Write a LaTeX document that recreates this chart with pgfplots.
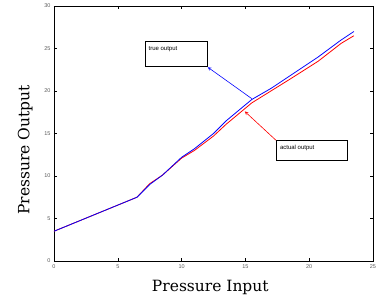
\documentclass[border=0pt]{standalone}
\usepackage{fontspec}
\setmainfont{DejaVu Serif}
\newfontfamily\arial{Liberation Sans}
\usepackage{pgfplots}
\pgfplotsset{compat=1.18}
\begin{document}
\begin{tikzpicture}[x=1pt,y=1pt]
\path[use as bounding box] (-54,-37) rectangle (327,261);
\begin{axis}[
  scale only axis,
  width=319pt, height=255pt,
  xmin=0, xmax=25, ymin=0, ymax=30,
  xtick={0,5,10,15,20,25},
  ytick={0,5,10,15,20,25,30},
  tick align=inside,
  major tick length=3pt,
  axis line style={line width=0.9pt},
  tick style={black, line width=0.4pt},
  ticklabel style={font=\arial\fontsize{5.5}{6}\selectfont, text=gray!70!black},
  /pgf/number format/assume math mode=true,
  xlabel={Pressure Input},
  ylabel={Pressure Output},
  label style={font=\fontsize{15.5}{18}\selectfont},
  xlabel style={at={(axis description cs:0.49,-0.102)}, anchor=center},
  ylabel style={at={(axis description cs:-0.09,0.435)}, anchor=center, rotate=0},
  clip=false,
]
\addplot[red, line width=0.8pt] coordinates {
(0,3.5) (6.5,7.5) (7.5,9.1) (8.5,10.1) (10,12.1) (11,13.0) (12.5,14.7) (13.5,16.1) (15.5,18.6) (17,20.0) (18.5,21.4) (20.7,23.5) (22.5,25.6) (23.5,26.5)
};
\addplot[blue, line width=0.8pt] coordinates {
(0,3.5) (6.5,7.5) (7.5,9.0) (8.5,10.1) (10,12.2) (11,13.2) (12.5,15.0) (13.5,16.5) (15.5,19.0) (17,20.3) (18.5,21.8) (20.7,24.0) (22.5,26.0) (23.5,27.0)
};
\draw[line width=0.6pt] (axis cs:7.13,25.8) rectangle (axis cs:12.0,22.85);
\node[anchor=north west, inner sep=0pt, font=\arial\fontsize{6}{7}\selectfont] at (axis cs:7.4,25.3) {true output};
\draw[blue, line width=0.6pt, -stealth] (axis cs:15.5,19.1) -- (axis cs:12.05,22.8);
\draw[line width=0.6pt] (axis cs:17.4,14.2) rectangle (axis cs:22.95,11.8);
\node[anchor=north west, inner sep=0pt, font=\arial\fontsize{6}{7}\selectfont] at (axis cs:17.7,13.6) {actual output};
\draw[red, line width=0.6pt, -stealth] (axis cs:17.4,14.2) -- (axis cs:14.95,17.6);
\end{axis}
\end{tikzpicture}
\end{document}
